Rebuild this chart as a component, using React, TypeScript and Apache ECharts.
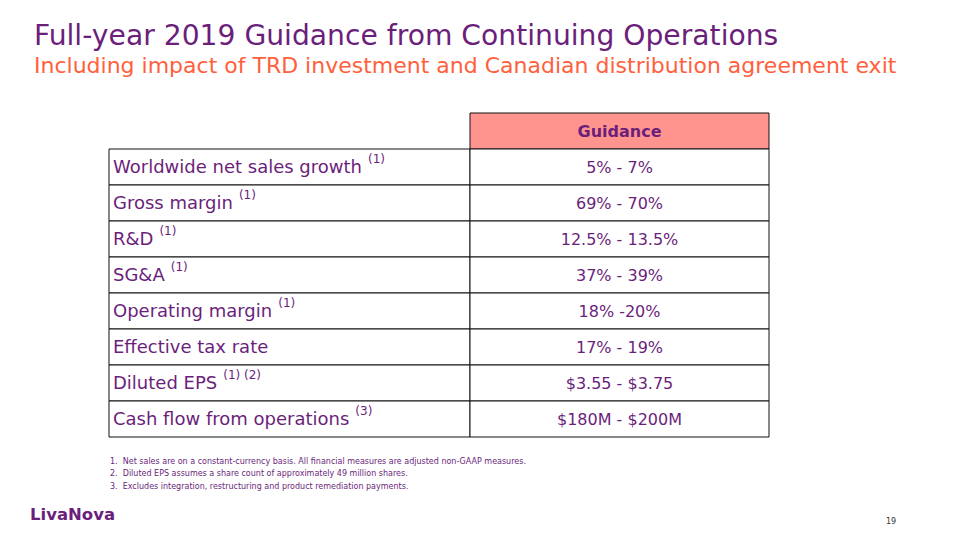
import React, { useEffect, useRef } from "react";
import * as echarts from "echarts";

const title = "Full-year 2019 Guidance from Continuing Operations";
const subtitle = "Including impact of TRD investment and Canadian distribution agreement exit";
const header = "Guidance";
const rowLabels = [
  "Worldwide net sales growth",
  "Gross margin",
  "R&D",
  "SG&A",
  "Operating margin",
  "Effective tax rate",
  "Diluted EPS",
  "Cash flow from operations",
];
const rowNotes = ["(1)", "(1)", "(1)", "(1)", "(1)", "", "(1) (2)", "(3)"];
const rowValues = [
  "5% - 7%",
  "69% - 70%",
  "12.5% - 13.5%",
  "37% - 39%",
  "18% -20%",
  "17% - 19%",
  "$3.55 - $3.75",
  "$180M - $200M",
];
const footnotes = [
  "1.  Net sales are on a constant-currency basis. All financial measures are adjusted non-GAAP measures.",
  "2.  Diluted EPS assumes a share count of approximately 49 million shares.",
  "3.  Excludes integration, restructuring and product remediation payments.",
];
const pageNumber = "19";
const logoText = "LivaNova";

const FONT = "DejaVu Sans";
const PURPLE = "#6B1F7B";
const ORANGE = "#FF5F3C";

function measure(text: string, size: number, weight = "normal") {
  const c = document.createElement("canvas").getContext("2d")!;
  c.font = `${weight} ${size}px "${FONT}"`;
  return c.measureText(text).width;
}

export default function App() {
  const ref = useRef<HTMLDivElement>(null);
  useEffect(() => {
    const chart = echarts.init(ref.current!, null, { renderer: "svg" });
    const L = 109, M = 470, R = 769, top = 113, rh = 36;
    const labelSize = 18;
    const els: any[] = [];
    els.push({
      type: "rect",
      shape: { x: M, y: top, width: R - M, height: rh },
      style: { fill: "#FF948F", stroke: "#111", lineWidth: 1 },
    });
    els.push({
      type: "text",
      x: (M + R) / 2,
      y: top + rh / 2,
      style: { text: header, font: `bold 16px "${FONT}"`, fill: PURPLE, align: "center", verticalAlign: "middle" },
    });
    rowLabels.forEach((lab, i) => {
      const y0 = top + rh * (i + 1);
      els.push({ type: "rect", shape: { x: L, y: y0, width: M - L, height: rh }, style: { fill: "#fff", stroke: "#111", lineWidth: 1 } });
      els.push({ type: "rect", shape: { x: M, y: y0, width: R - M, height: rh }, style: { fill: "#fff", stroke: "#111", lineWidth: 1 } });
      els.push({
        type: "text",
        x: L + 4,
        y: y0 + rh / 2 - 1,
        style: { text: lab, font: `${labelSize}px "${FONT}"`, fill: PURPLE, align: "left", verticalAlign: "middle" },
      });
      if (rowNotes[i]) {
        const w = measure(lab, labelSize);
        els.push({
          type: "text",
          x: L + 4 + w + 6,
          y: y0 + rh / 2 - 8,
          style: { text: rowNotes[i], font: `12px "${FONT}"`, fill: PURPLE, align: "left", verticalAlign: "middle" },
        });
      }
      els.push({
        type: "text",
        x: (M + R) / 2,
        y: y0 + rh / 2,
        style: { text: rowValues[i], font: `16px "${FONT}"`, fill: PURPLE, align: "center", verticalAlign: "middle" },
      });
    });
    els.push({
      type: "text",
      x: 34,
      y: 35,
      style: { text: title, font: `28.2px "${FONT}"`, fill: PURPLE, align: "left", verticalAlign: "middle" },
    });
    els.push({
      type: "text",
      x: 34,
      y: 65,
      style: { text: subtitle, font: `22px "${FONT}"`, fill: ORANGE, align: "left", verticalAlign: "middle" },
    });
    footnotes.forEach((f, i) => {
      els.push({
        type: "text",
        x: 110,
        y: 461 + i * 12.5,
        style: { text: f, font: `8px "${FONT}"`, fill: PURPLE, align: "left", verticalAlign: "middle" },
      });
    });
    els.push({
      type: "text",
      x: 30,
      y: 514,
      style: { text: logoText, font: `bold 16.5px "${FONT}"`, fill: PURPLE, align: "left", verticalAlign: "middle" },
    });
    els.push({
      type: "text",
      x: 886,
      y: 521,
      style: { text: pageNumber, font: `8px "${FONT}"`, fill: "#333", align: "left", verticalAlign: "middle" },
    });
    chart.setOption({ animation: false, graphic: { elements: els } });
    return () => chart.dispose();
  }, []);
  return <div ref={ref} style={{ position: "fixed", left: 0, top: 0, width: 958, height: 540, background: "#fff" }} />;
}
